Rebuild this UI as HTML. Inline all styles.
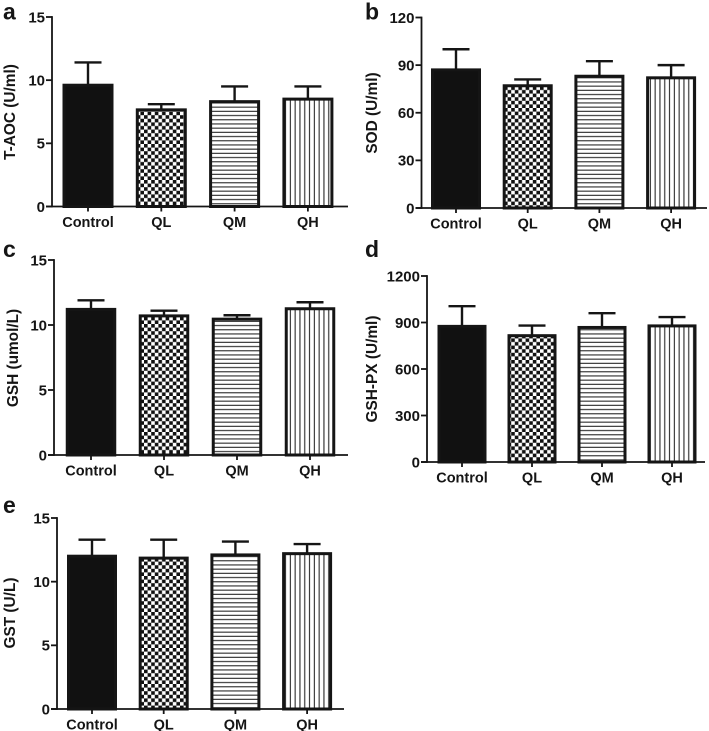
<!DOCTYPE html>
<html>
<head>
<meta charset="utf-8">
<title>Antioxidant indices</title>
<style>
html,body{margin:0;padding:0;background:#fff;}
svg{display:block;}
text{font-family:"Liberation Sans",Arial,sans-serif;font-weight:bold;fill:#151515;}
</style>
</head>
<body>
<svg id="figure" xmlns="http://www.w3.org/2000/svg" width="709" height="731" viewBox="0 0 709 731">
<defs>
<pattern id="pat-check" patternUnits="userSpaceOnUse" width="7.2" height="7.2">
<rect width="7.2" height="7.2" fill="#fff"/>
<rect width="3.6" height="3.6" fill="#111"/>
<rect x="3.6" y="3.6" width="3.6" height="3.6" fill="#111"/>
</pattern>
<pattern id="pat-horiz" patternUnits="userSpaceOnUse" width="6" height="4.2">
<rect width="6" height="4.2" fill="#fff"/>
<rect y="1.6" width="6" height="1.1" fill="#2a2a2a"/>
</pattern>
<pattern id="pat-vert" patternUnits="userSpaceOnUse" width="4.8" height="6">
<rect width="4.8" height="6" fill="#fff"/>
<rect x="1.8" width="1.1" height="6" fill="#2a2a2a"/>
</pattern>
</defs>
</svg>
<script>
const categories = ['Control', 'QL', 'QM', 'QH'];

const taocMeans = [9.6, 7.65, 8.3, 8.5];
const taocUppers = [11.4, 8.1, 9.5, 9.5];
const taocTicks = [0, 5, 10, 15];

const sodMeans = [87, 77, 83, 82];
const sodUppers = [100, 81, 92.5, 90];
const sodTicks = [0, 30, 60, 90, 120];

const gshMeans = [11.2, 10.7, 10.45, 11.25];
const gshUppers = [11.9, 11.1, 10.75, 11.75];
const gshTicks = [0, 5, 10, 15];

const gpxMeans = [875, 815, 868, 878];
const gpxUppers = [1005, 880, 960, 935];
const gpxTicks = [0, 300, 600, 900, 1200];

const gstMeans = [12, 11.85, 12.1, 12.2];
const gstUppers = [13.3, 13.3, 13.15, 12.95];
const gstTicks = [0, 5, 10, 15];

const fills = ['#111', 'url(#pat-check)', 'url(#pat-horiz)', 'url(#pat-vert)'];
const NS = 'http://www.w3.org/2000/svg';
const fig = document.getElementById('figure');

function make(parent, tag) {
  const el = document.createElementNS(NS, tag);
  parent.appendChild(el);
  return el;
}
function line(parent, x1, y1, x2, y2, w) {
  const el = make(parent, 'line');
  el.setAttribute('x1', x1);
  el.setAttribute('y1', y1);
  el.setAttribute('x2', x2);
  el.setAttribute('y2', y2);
  el.setAttribute('stroke', '#151515');
  el.setAttribute('stroke-width', w);
  return el;
}
function label(parent, x, y, str, size, anchor) {
  const el = make(parent, 'text');
  el.setAttribute('x', x);
  el.setAttribute('y', y);
  el.setAttribute('font-size', size);
  el.setAttribute('text-anchor', anchor);
  el.textContent = str;
  return el;
}

function drawPanel(p, means, uppers, ticks) {
  const g = make(fig, 'g');
  
  

  const maxV = ticks[ticks.length - 1];
  const yScale = v => p.bottom - (v / maxV) * (p.bottom - p.top);
  const xScale = i => p.first + i * p.step;

  const letter = label(g, p.letterX, p.letterY, p.letter, 23, 'start');
  
  

  const title = label(g, 0, 0, p.title, 15.4, 'middle');
  title.setAttribute('transform', 'translate(' + p.titleX + ',' + p.titleY + ') rotate(-90)');
  
  

  categories.forEach((cat, i) => {
    const cx = xScale(i);
    const topY = yScale(means[i]);
    const upY = yScale(uppers[i]);

    const stem = line(g, cx, upY, cx, topY, 2.4);
    
    

    const cap = line(g, cx - 13.5, upY, cx + 13.5, upY, 2.4);
    
    

    const bar = make(g, 'rect');
    bar.setAttribute('x', cx - p.barW / 2 + 1.5);
    bar.setAttribute('y', topY);
    bar.setAttribute('width', p.barW - 3);
    bar.setAttribute('height', p.bottom - topY);
    bar.setAttribute('fill', fills[i]);
    bar.setAttribute('stroke', '#151515');
    bar.setAttribute('stroke-width', 3);
    
    

    const tick = line(g, cx, p.bottom, cx, p.bottom + 5, 1.8);
    
    

    const tl = label(g, cx, p.bottom + 20.5, cat, 14.5, 'middle');
    
    
  });

  const yAxis = line(g, p.ox, p.top - 0.9, p.ox, p.bottom + 0.9, 1.8);
  
  

  const xAxis = line(g, p.ox - 6, p.bottom, p.xEnd, p.bottom, 1.8);
  
  

  ticks.forEach(t => {
    const y = yScale(t);
    const tk = line(g, p.ox - 6, y, p.ox, y, 1.8);
    
    

    const tl = label(g, p.ox - 7, y + 5.3, String(t), 15, 'end');
    
    
  });
}

drawPanel({letter:'a', title:'T-AOC (U/ml)', letterX:3, letterY:19.5, titleX:15, titleY:112, ox:52, top:17, bottom:206.5, xEnd:348, first:88, step:73.3, barW:51}, taocMeans, taocUppers, taocTicks);
drawPanel({letter:'b', title:'SOD (U/ml)', letterX:365, letterY:19.5, titleX:377, titleY:113, ox:421.5, top:17.5, bottom:208, xEnd:707, first:456, step:71.7, barW:50}, sodMeans, sodUppers, sodTicks);
drawPanel({letter:'c', title:'GSH (umol/L)', letterX:3, letterY:257, titleX:18, titleY:358, ox:54, top:260, bottom:455, xEnd:348, first:91, step:73, barW:50.5}, gshMeans, gshUppers, gshTicks);
drawPanel({letter:'d', title:'GSH-PX (U/ml)', letterX:365, letterY:257, titleX:377, titleY:369, ox:427, top:276, bottom:462, xEnd:705, first:462, step:70, barW:49}, gpxMeans, gpxUppers, gpxTicks);
drawPanel({letter:'e', title:'GST (U/L)', letterX:3, letterY:513, titleX:15, titleY:613, ox:57, top:518, bottom:709, xEnd:344, first:92, step:71.7, barW:50}, gstMeans, gstUppers, gstTicks);
</script>
</body>
</html>
